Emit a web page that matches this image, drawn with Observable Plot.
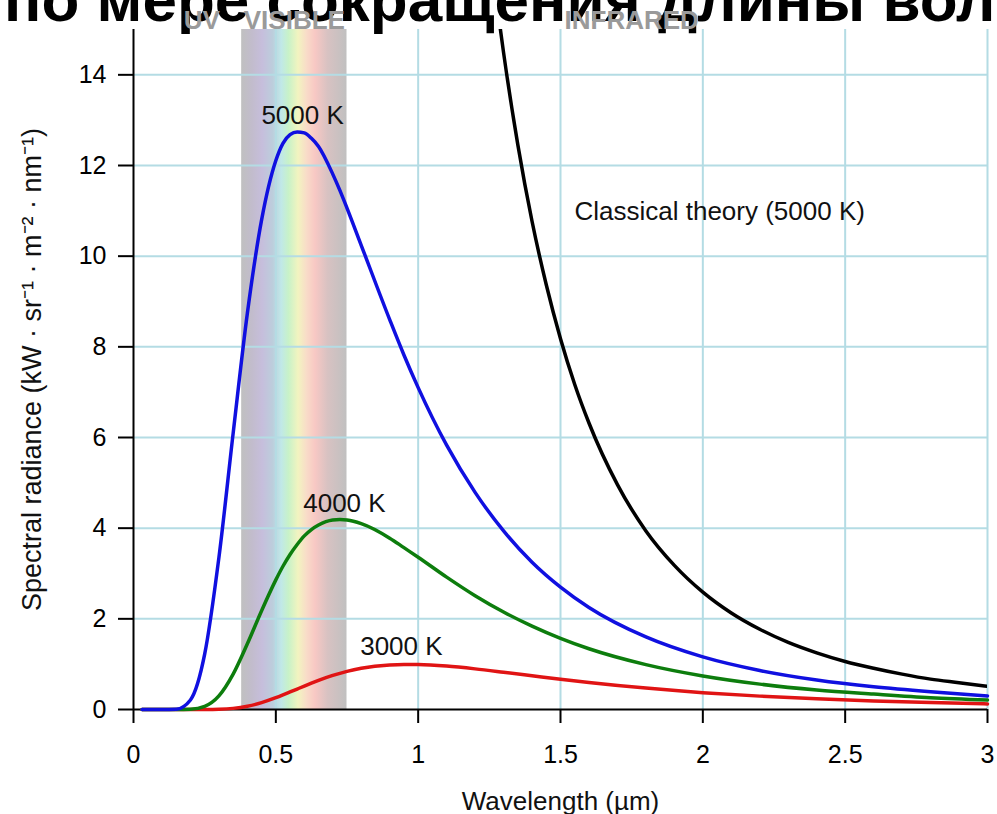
<!DOCTYPE html>
<html><head><meta charset="utf-8">
<script src="https://cdn.jsdelivr.net/npm/d3@7"></script>
<script src="https://cdn.jsdelivr.net/npm/@observablehq/plot@0.6"></script>
<style>
html,body{margin:0;padding:0;background:#fff;}
#wrap{position:relative;width:997px;height:814px;overflow:hidden;background:#fff;}
#title{position:absolute;left:4px;top:-31px;font:bold 62px/62px "Liberation Sans",Arial,sans-serif;white-space:nowrap;color:#000;}
#chart{position:absolute;left:0;top:0;}
</style></head><body>
<div id="wrap"><div id="title"></div><div id="chart"></div></div>
<script>
const titleText = "по мере сокращения длины волны";
const xLabel = "Wavelength (µm)";
const yLabel = "Spectral radiance (kW · sr⁻¹ · m⁻² · nm⁻¹)";

const wavelengths = [0.03, 0.1, 0.15, 0.2, 0.25, 0.3, 0.35, 0.4, 0.45, 0.5, 0.525, 0.55, 0.575, 0.6, 0.625, 0.65, 0.7, 0.725, 0.75, 0.8, 0.9, 0.95, 1.0, 1.1, 1.2, 1.3, 1.4, 1.5, 1.6, 1.8, 2.0, 2.2, 2.4, 2.6, 2.8, 3.0];
const radiance5000 = [0, 0, 0.007, 0.21, 1.22, 3.35, 6.09, 8.74, 10.80, 12.11, 12.49, 12.68, 12.74, 12.72, 12.60, 12.42, 11.81, 11.45, 11.06, 10.24, 8.60, 7.82, 7.10, 5.83, 4.79, 3.94, 3.25, 2.70, 2.25, 1.60, 1.16, 0.86, 0.65, 0.50, 0.39, 0.30];
const radiance4000 = [0, 0, 0, 0.006, 0.069, 0.30, 0.78, 1.45, 2.18, 2.86, 3.16, 3.42, 3.64, 3.83, 3.97, 4.07, 4.18, 4.19, 4.18, 4.10, 3.78, 3.57, 3.36, 2.92, 2.51, 2.15, 1.84, 1.57, 1.34, 0.99, 0.74, 0.56, 0.43, 0.34, 0.26, 0.21];
const radiance3000 = [0, 0, 0, 0, 0.001, 0.006, 0.025, 0.072, 0.152, 0.26, 0.322, 0.387, 0.452, 0.517, 0.581, 0.642, 0.751, 0.798, 0.84, 0.908, 0.983, 0.995, 0.992, 0.957, 0.896, 0.822, 0.745, 0.668, 0.597, 0.472, 0.372, 0.295, 0.235, 0.188, 0.152, 0.124];

const classicalWavelengths = [1.285, 1.3, 1.35, 1.4, 1.45, 1.5, 1.55, 1.6, 1.7, 1.8, 1.9, 2.0, 2.1, 2.2, 2.3, 2.4, 2.5, 2.6, 2.7, 2.8, 2.9, 3.0];
const classical5000 = [15.18, 14.49, 12.46, 10.77, 9.37, 8.18, 7.17, 6.32, 4.96, 3.94, 3.18, 2.59, 2.13, 1.77, 1.48, 1.25, 1.06, 0.91, 0.78, 0.67, 0.59, 0.51];

const xTicks = [0, 0.5, 1, 1.5, 2, 2.5, 3];
const yTicks = [0, 2, 4, 6, 8, 10, 12, 14];

const curveLabels = ["5000 K", "4000 K", "3000 K"];
const curveLabelX = [0.594, 0.741, 0.941];
const curveLabelY = [13.1, 4.54, 1.39];
const classicalLabel = "Classical theory (5000 K)";
const classicalLabelX = 1.549;
const classicalLabelY = 10.99;

const regionLabels = ["UV", "VISIBLE", "INFRARED"];
const regionX = [0.24, 0.565, 1.75];

const visibleBand = [0.38, 0.75];

document.getElementById("title").textContent = titleText;

const toRows = (xs, ys) => xs.map((w, i) => ({w, v: ys[i]}));
const gridColor = "#b4dce4";
const font = '"Liberation Sans", Arial, sans-serif';

const labelRows = curveLabels.map((t, i) => ({t, x: curveLabelX[i], y: curveLabelY[i]}));
const regionRows = regionLabels.map((t, i) => ({t, x: regionX[i]}));

const chart = Plot.plot({
  width: 997,
  height: 814,
  marginTop: 29,
  marginBottom: 105,
  marginLeft: 133,
  marginRight: 10,
  style: {fontFamily: font, fontSize: "25px", color: "#000", background: "transparent", overflow: "visible"},
  x: {domain: [0, 3], ticks: xTicks, tickFormat: d => String(d), tickSize: 14, tickPadding: 22, label: null},
  y: {domain: [0, 15], ticks: yTicks, tickFormat: d => String(d), tickSize: 15, tickPadding: 12, label: null},
  marks: [
    Plot.rect([{x1: visibleBand[0], x2: visibleBand[1]}], {x1: "x1", x2: "x2", y1: () => 0, y2: () => 15, fill: "url(#visgrad)"}),
    Plot.ruleX(xTicks.filter(d => d > 0), {stroke: gridColor, strokeWidth: 2}),
    Plot.ruleY(yTicks.filter(d => d > 0), {stroke: gridColor, strokeWidth: 2}),
    Plot.ruleX([0], {stroke: "#000", strokeWidth: 2}),
    Plot.ruleY([0], {stroke: "#000", strokeWidth: 2}),
    Plot.line(toRows(classicalWavelengths, classical5000), {x: "w", y: "v", stroke: "#000", strokeWidth: 3.5, curve: "monotone-x", clip: true}),
    Plot.line(toRows(wavelengths, radiance3000), {x: "w", y: "v", stroke: "#e01414", strokeWidth: 3.5, curve: "monotone-x"}),
    Plot.line(toRows(wavelengths, radiance4000), {x: "w", y: "v", stroke: "#0d7d0d", strokeWidth: 3.5, curve: "monotone-x"}),
    Plot.line(toRows(wavelengths, radiance5000), {x: "w", y: "v", stroke: "#1010e0", strokeWidth: 3.5, curve: "monotone-x"}),
    Plot.text(labelRows, {x: "x", y: "y", text: "t", textAnchor: "middle", fontSize: 26, fill: "#111"}),
    Plot.text([classicalLabel], {x: () => classicalLabelX, y: () => classicalLabelY, text: d => d, textAnchor: "start", fontSize: 26, fill: "#111"}),
    Plot.text(regionRows, {x: "x", y: () => 15, text: "t", lineAnchor: "bottom", dy: -1, fontSize: 26, fontWeight: "bold", fill: "#9a9a9a"}),
    Plot.text([xLabel], {frameAnchor: "bottom", dy: 92, lineAnchor: "middle", textAnchor: "middle", fontSize: 26, fill: "#111"}),
    Plot.text([yLabel], {frameAnchor: "left", rotate: -90, dx: -101, lineAnchor: "middle", textAnchor: "middle", fontSize: 27, fill: "#111"})
  ]
});

const stops = [
  [0, "#c0c0c0"], [0.1, "#c2bccc"], [0.2, "#c6bedc"], [0.3, "#bccedc"], [0.38, "#c0e8e8"],
  [0.45, "#c8f2c8"], [0.54, "#f2f4c0"], [0.62, "#f8dcc8"], [0.7, "#f8c8c4"], [0.82, "#d8c2c2"], [1, "#c0c0c0"]
];
const defs = d3.select(chart).insert("defs", ":first-child");
const grad = defs.append("linearGradient").attr("id", "visgrad").attr("x1", 0).attr("x2", 1).attr("y1", 0).attr("y2", 0);
stops.forEach(([o, c]) => grad.append("stop").attr("offset", o).attr("stop-color", c));
d3.select(chart).selectAll('[aria-label$="-axis tick"]').attr("stroke-width", 2);
document.getElementById("chart").appendChild(chart);
</script>
</body></html>
